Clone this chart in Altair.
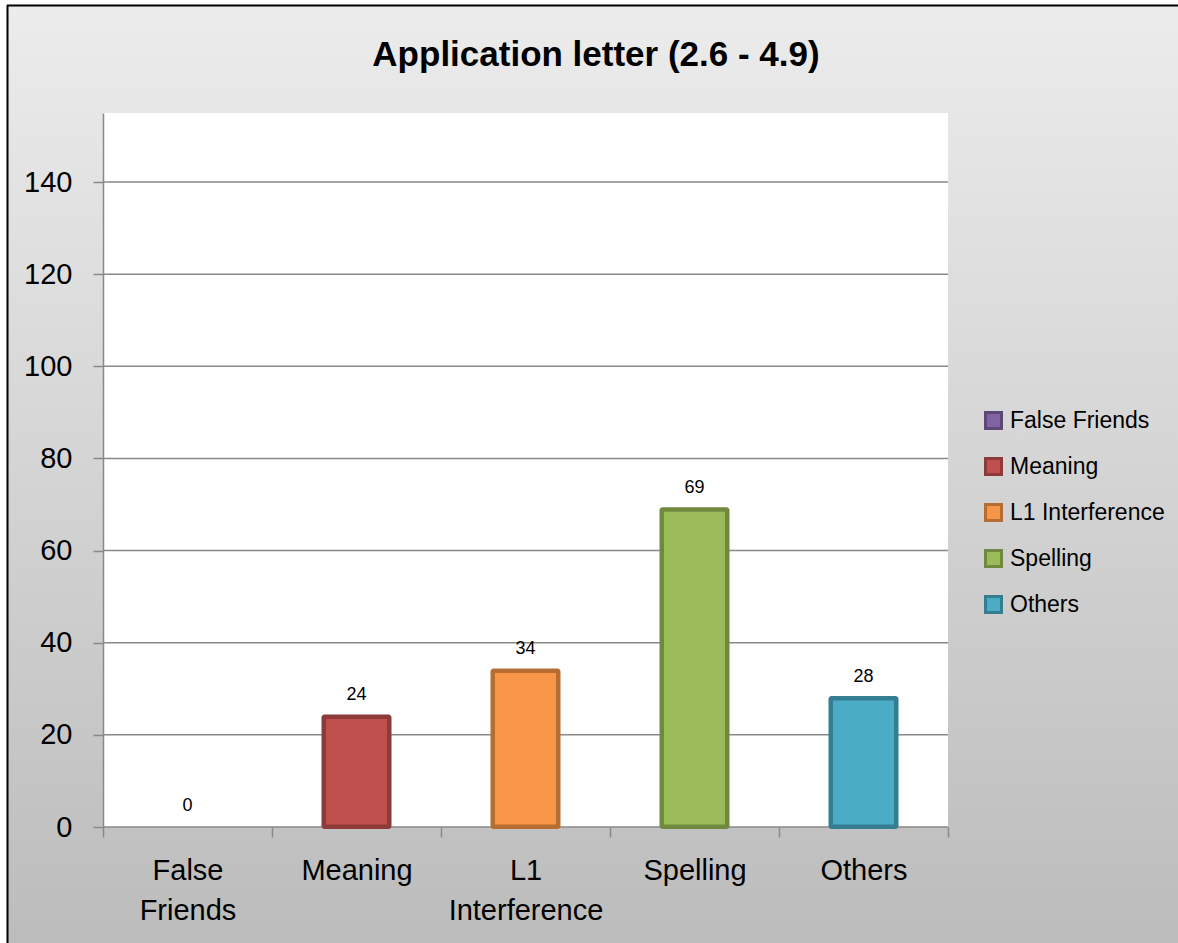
import altair as alt
import pandas as pd

# Error counts per category
categories = ["False Friends", "Meaning", "L1 Interference", "Spelling", "Others"]
counts = [0, 24, 34, 69, 28]
fill_colors = ["#8064A2", "#C0504D", "#F79646", "#9BBB59", "#4BACC6"]
edge_colors = ["#5C4776", "#8E3A38", "#B66D31", "#71893F", "#357D91"]
y_ticks = [0, 20, 40, 60, 80, 100, 120, 140]
title_text = "Application letter (2.6 - 4.9)"

W, H = 845, 714
PAD = {"left": 103, "top": 113, "right": 230, "bottom": 116}
FONT = "Liberation Sans, Arial, sans-serif"
GRID = "#898989"
EDGE = 4  # thickness of the darker bar outline
BAR = 70  # outer bar width

bars_df = pd.DataFrame({"category": categories, "value": counts, "edge": edge_colors})
grid_df = pd.DataFrame({"tick": y_ticks})
blank = alt.Data(values=[{}])

y_scale = alt.Scale(domain=[0, 155], nice=False, zero=True)
x_scale = alt.Scale(domain=categories, paddingInner=0, paddingOuter=0)

x_axis = alt.Axis(
    title=None, labelAngle=0, labelFont=FONT, labelFontSize=29, labelColor="black",
    labelExpr="split(datum.label, ' ')", labelLineHeight=40, labelPadding=19,
    labelOverlap=False, labelLimit=400, domain=False, ticks=True, tickSize=10,
    tickColor=GRID, tickWidth=1.5, tickBand="extent", grid=False, zindex=1,
)
y_axis = alt.Axis(
    title=None, values=y_ticks, grid=False, domainColor=GRID, domainWidth=1.5,
    tickColor=GRID, tickWidth=1.5, tickSize=10, labelFont=FONT, labelFontSize=29,
    labelColor="black", labelPadding=21, zindex=1,
)
legend = alt.Legend(
    title=None, orient="none", legendX=879, legendY=296, labelFont=FONT,
    labelFontSize=23, labelColor="black", labelLimit=400, symbolType="square",
    symbolSize=256, symbolStrokeWidth=3, labelOffset=5, rowPadding=17, padding=0,
    zindex=1,
)

# Grey gradient backdrop behind the whole figure
backdrop = alt.Chart(blank).mark_rect(
    color=alt.Gradient(
        gradient="linear",
        stops=[alt.GradientStop(color="#ececec", offset=0),
               alt.GradientStop(color="#bcbcbc", offset=1)],
        x1=0, x2=0, y1=0, y2=1,
    )
).encode(
    x=alt.value(-96), x2=alt.value(W + PAD["right"]),
    y=alt.value(-108), y2=alt.value(H + PAD["bottom"]),
)

frame_top = alt.Chart(blank).mark_rule(color="black", strokeWidth=2).encode(
    x=alt.value(-96), x2=alt.value(W + PAD["right"]), y=alt.value(-107.5)
)
frame_left = alt.Chart(blank).mark_rule(color="black", strokeWidth=2).encode(
    x=alt.value(-95.5), y=alt.value(-108), y2=alt.value(H + PAD["bottom"])
)

plot_bg = alt.Chart(blank).mark_rect(color="white").encode(
    x=alt.value(0), x2=alt.value(W), y=alt.value(0), y2=alt.value(H)
)

grid = alt.Chart(grid_df).mark_rule(color=GRID, strokeWidth=1.5).encode(
    y=alt.Y("tick:Q", scale=y_scale, axis=y_axis),
    x=alt.value(0), x2=alt.value(W),
)

x_enc = alt.X("category:N", scale=x_scale, axis=x_axis, sort=categories)

# Dark outline: a slightly wider bar in the edge colour (colour taken as-is)
bars_edge = alt.Chart(bars_df).mark_bar(size=BAR, cornerRadius=3, yOffset=-EDGE / 2).encode(
    x=x_enc,
    y=alt.Y("value:Q", scale=y_scale, axis=y_axis, stack=None),
    y2=alt.value(H + EDGE / 2),
    color=alt.Color("edge:N", scale=None, legend=None),
).transform_filter("datum.value > 0")

# Inner face of each bar, carrying the legend
bars_face = alt.Chart(bars_df).mark_bar(size=BAR - 2 * EDGE, yOffset=EDGE / 2).encode(
    x=x_enc,
    y=alt.Y("value:Q", scale=y_scale, axis=y_axis, stack=None),
    y2=alt.value(H - EDGE / 2),
    fill=alt.Fill("category:N", scale=alt.Scale(domain=categories, range=fill_colors), legend=legend),
    stroke=alt.Stroke("category:N", scale=alt.Scale(domain=categories, range=edge_colors), legend=legend),
).transform_filter("datum.value > 0")

labels = alt.Chart(bars_df).mark_text(
    fontSize=18, font=FONT, dy=-16, baseline="alphabetic", color="black"
).encode(
    x=x_enc,
    y=alt.Y("value:Q", scale=y_scale, axis=y_axis),
    text="value:Q",
)

title_mark = alt.Chart(blank).mark_text(
    text=title_text, fontSize=35, fontWeight="bold", font=FONT,
    baseline="alphabetic", align="center", color="black",
).encode(x=alt.value(493), y=alt.value(-47))

chart = alt.layer(
    backdrop, frame_top, frame_left, plot_bg, grid, bars_edge, bars_face, labels, title_mark
).properties(
    width=W, height=H, padding=PAD, autosize=alt.AutoSizeParams(type="none"),
).configure_view(strokeWidth=0)

chart.save("out.html", embed_options={"renderer": "svg", "actions": False})
